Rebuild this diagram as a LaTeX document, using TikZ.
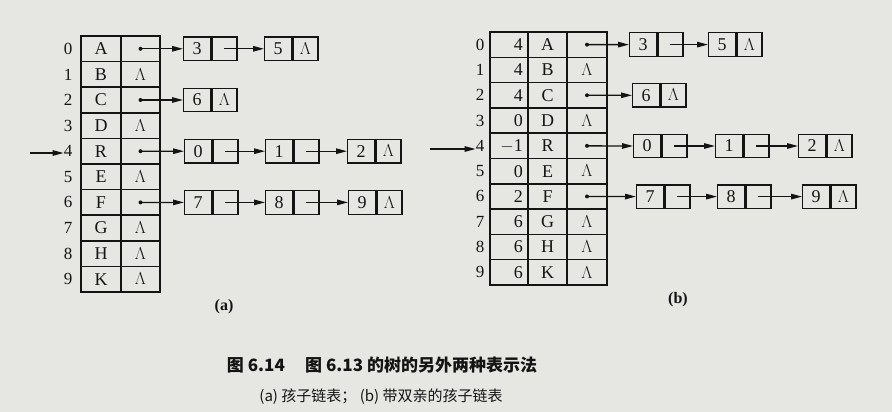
\documentclass[tikz,border=0pt]{standalone}
\usepackage{fontspec}
\setmainfont{Liberation Serif}
\newfontfamily\cjk{Noto Sans CJK SC}
\usetikzlibrary{arrows.meta}
\definecolor{paper}{HTML}{E6E6E3}
\definecolor{ink}{HTML}{141414}
\newcommand\nilsym{\raisebox{0.5pt}{\fontsize{18}{18}\selectfont$\Lambda$}}
\tikzset{
  cell/.style={draw=ink, line width=1.5pt, minimum height=25.6pt, inner sep=0pt, text=ink, font=\fontsize{18}{18}\selectfont},
  lcell/.style={draw=ink, line width=1.3pt, minimum height=23.5pt, inner sep=0pt, text=ink, font=\fontsize{18}{18}\selectfont},
  idx/.style={text=ink, inner sep=0pt, font=\fontsize{17}{17}\selectfont},
  link/.style={draw=ink, line width=1.3pt, -{Triangle[length=11pt,width=5.5pt]}},
  lbl/.style={text=ink, inner sep=0pt, font=\bfseries\fontsize{16}{16}\selectfont},
  captext/.style={text=ink, inner sep=0pt, font=\cjk\bfseries\fontsize{17}{17}\selectfont},
  captextb/.style={text=ink, inner sep=0pt, font=\cjk\fontsize{15}{15}\selectfont}
}
\newcommand\lst[5]{%
  \node[lcell, minimum width=27pt, anchor=west] (#1d) at (#2,#3) {#4};
  \node[lcell, minimum width=25pt, anchor=west] (#1p) at (#1d.east) {#5};
}
\begin{document}
\begin{tikzpicture}[x=1pt,y=-1pt]
\fill[paper] (0,0) rectangle (892,412);
\useasboundingbox (0,0) rectangle (892,412);

% ---------- (a) ----------
\foreach \i/\L/\P in {0/A/\relax,1/B/\nilsym,2/C/\relax,3/D/\nilsym,4/R/\relax,5/E/\nilsym,6/F/\relax,7/G/\nilsym,8/H/\nilsym,9/K/\nilsym}{
  \pgfmathsetmacro\yy{36+25.6*(\i+0.5)}
  \node[cell, minimum width=40pt] (aL\i) at (101,\yy) {\L};
  \node[cell, minimum width=39pt] (aP\i) at (140.5,\yy) {\P};
  \node[idx] (aI\i) at (68,\yy) {\i};
}
\foreach \i in {0,2,4,6}{\fill[ink] (aP\i.center) circle (2pt);}

\lst{a03}{183}{48.8}{3}{}
\lst{a05}{264}{48.8}{5}{\nilsym}
\lst{a26}{183}{100}{6}{\nilsym}
\lst{a40}{184}{151.2}{0}{}
\lst{a41}{265}{151.2}{1}{}
\lst{a42}{347}{151.2}{2}{\nilsym}
\lst{a67}{184}{202.4}{7}{}
\lst{a68}{265}{202.4}{8}{}
\lst{a69}{348}{202.4}{9}{\nilsym}

\draw[link] (aP0.center) -- (a03d.west);
\draw[link] (a03p.center) -- (a05d.west);
\draw[link] (aP2.center) -- (a26d.west);
\draw[link] (aP4.center) -- (a40d.west);
\draw[link] (a40p.center) -- (a41d.west);
\draw[link] (a41p.center) -- (a42d.west);
\draw[link] (aP6.center) -- (a67d.west);
\draw[link] (a67p.center) -- (a68d.west);
\draw[link] (a68p.center) -- (a69d.west);

\coordinate (aE) at (30,153);
\draw[link] (aE) -- (aI4.west |- aE);
\node[lbl] (alab) at (224,307) {(a)};

% ---------- (b) ----------
\foreach \i/\Q/\L/\P in {0/4/A/\relax,1/4/B/\nilsym,2/4/C/\relax,3/0/D/\nilsym,4/$-$1/R/\relax,5/0/E/\nilsym,6/2/F/\relax,7/6/G/\nilsym,8/6/H/\nilsym,9/6/K/\nilsym}{
  \pgfmathsetmacro\yy{32+25.3*(\i+0.5)}
  \node[cell, minimum width=38pt, minimum height=25.3pt] (bQ\i) at (509,\yy) {};
  \node[idx, anchor=east, font=\fontsize{18}{18}\selectfont] (bV\i) at (523,\yy) {\Q};
  \node[cell, minimum width=39pt, minimum height=25.3pt] (bL\i) at (547.5,\yy) {\L};
  \node[cell, minimum width=40pt, minimum height=25.3pt] (bP\i) at (587,\yy) {\P};
  \node[idx] (bI\i) at (480,\yy) {\i};
}
\foreach \i in {0,2,4,6}{\fill[ink] (bP\i.center) circle (2pt);}

\lst{b03}{629}{44.6}{3}{}
\lst{b05}{708}{44.6}{5}{\nilsym}
\lst{b26}{632}{95.3}{6}{\nilsym}
\lst{b40}{633}{146}{0}{}
\lst{b41}{715}{146}{1}{}
\lst{b42}{798}{146}{2}{\nilsym}
\lst{b67}{636}{196.6}{7}{}
\lst{b68}{717}{196.6}{8}{}
\lst{b69}{802}{196.6}{9}{\nilsym}

\draw[link] (bP0.center) -- (b03d.west);
\draw[link] (b03p.center) -- (b05d.west);
\draw[link] (bP2.center) -- (b26d.west);
\draw[link] (bP4.center) -- (b40d.west);
\draw[link] (b40p.center) -- (b41d.west);
\draw[link] (b41p.center) -- (b42d.west);
\draw[link] (bP6.center) -- (b67d.west);
\draw[link] (b67p.center) -- (b68d.west);
\draw[link] (b68p.center) -- (b69d.west);

\coordinate (bE) at (430,149);
\draw[link] (bE) -- (bI4.west |- bE);
\node[lbl] (blab) at (678,300) {(b)};

% ---------- caption ----------
\node[captext] (c1) at (382,365) {图 6.14\hspace{1.2em}图 6.13 的树的另外两种表示法};
\node[captextb] (c2) at (381,397) {(a) 孩子链表； (b) 带双亲的孩子链表};
\end{tikzpicture}
\end{document}
